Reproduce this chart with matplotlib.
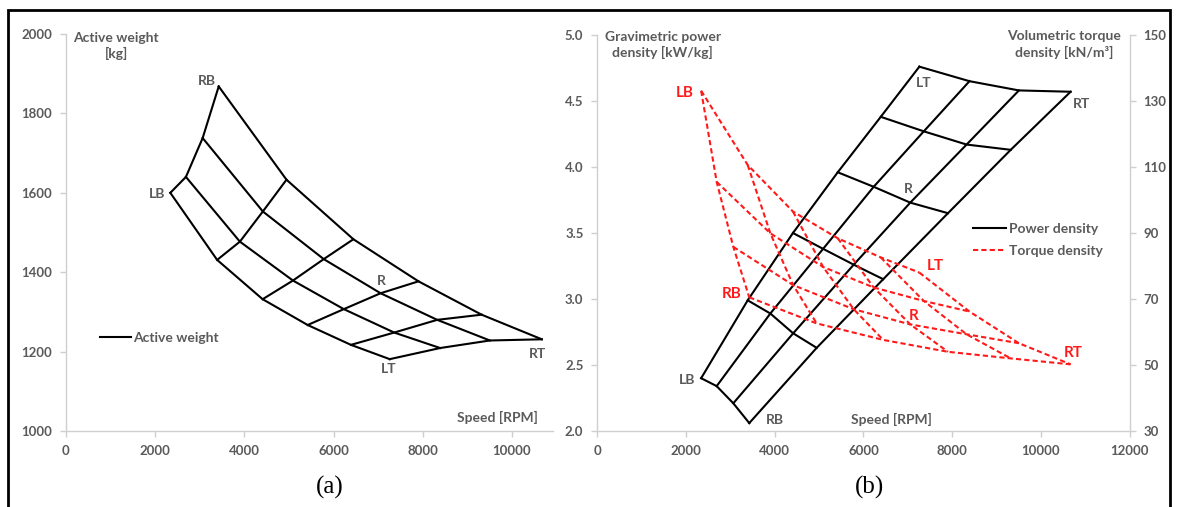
import numpy as np
import matplotlib as mpl
mpl.use("Agg")
import matplotlib.pyplot as plt
from matplotlib.lines import Line2D
from matplotlib.patches import Rectangle

# DATA  (rows : LB->LT ... RB->RT, columns : LB->RB ... LT->RT)

speed = [
    [2340, 3390, 4410, 5420, 6390, 7260],
    [2690, 3900, 5090, 6230, 7360, 8390],
    [3065, 4415, 5780, 7055, 8325, 9505],
    [3425, 4945, 6445, 7905, 9320, 10670],
]

active_weight = [
    [1600, 1431, 1332, 1267, 1217, 1181],
    [1640, 1477, 1379, 1307, 1248, 1209],
    [1738, 1553, 1433, 1347, 1280, 1228],
    [1868, 1633, 1483, 1377, 1293, 1231],
]

power_density = [
    [2.40, 2.99, 3.50, 3.96, 4.38, 4.76],
    [2.34, 2.89, 3.38, 3.85, 4.27, 4.65],
    [2.21, 2.74, 3.26, 3.73, 4.17, 4.58],
    [2.06, 2.63, 3.15, 3.65, 4.13, 4.57],
]

torque_density = [
    [133.1, 110.6, 96.5, 88.4, 82.6, 78.0],
    [105.5, 89.9, 79.7, 73.5, 69.4, 66.2],
    [85.8, 74.2, 66.9, 62.3, 59.3, 56.6],
    [70.5, 62.6, 57.6, 54.0, 52.0, 50.2],
]

# corner / reference labels : (text, speed, value)
labels_a = [("RB", 3155, 1881), ("LB", 2034, 1598), ("R", 7078, 1379),
            ("RT", 10567, 1194), ("LT", 7226, 1156)]
labels_b_power = [("LT", 7349, 4.64), ("RT", 10920, 4.48), ("R", 7011, 3.83),
                  ("LB", 2015, 2.39), ("RB", 4006, 2.08)]
labels_b_torque = [("LB", 1977, 4.56), ("RB", 3030, 3.04), ("LT", 7613, 3.25),
                   ("R", 7123, 2.87), ("RT", 10730, 2.59)]

# STYLE

plt.rcParams['font.family'] = ['Lato', 'DejaVu Sans']
plt.rcParams['font.weight'] = 'bold'
GREY_TXT = '#5a5a5a'
GREY_AX = '#cfcfcf'
RED = '#ff1a1a'
DASH = (0, (2.5, 1.5))


def _mesh(ax, x, y, **kw):
    x = np.asarray(x)
    y = np.asarray(y)
    for i in range(x.shape[0]):
        ax.plot(x[i], y[i], **kw)
    for j in range(x.shape[1]):
        ax.plot(x[:, j], y[:, j], **kw)


def _style(ax, right=False):
    for s in ['top', 'right', 'left', 'bottom']:
        ax.spines[s].set_visible(False)
    ax.spines['bottom'].set_visible(True)
    ax.spines['left' if not right else 'right'].set_visible(True)
    for s in ax.spines.values():
        s.set_color(GREY_AX)
        s.set_linewidth(1.0)
    ax.tick_params(direction='out', length=4, width=1, color=GREY_AX,
                   labelcolor=GREY_TXT, labelsize=9.5, pad=6)


# FIGURE

fig = plt.figure(figsize=(11.78, 5.07), dpi=100)

# (a) active weight
axa = fig.add_axes([0.0560, 0.1499, 0.4134, 0.7830])
_mesh(axa, speed, active_weight, color='black', lw=1.5)
axa.set_xlim(0, 10920)
axa.set_ylim(1000, 2000)
axa.set_xticks(np.arange(0, 10001, 2000))
axa.set_yticks(np.arange(1000, 2001, 200))
_style(axa)
for t, x, y in labels_a:
    axa.text(x, y, t, color=GREY_TXT, fontsize=10, ha='center', va='center')
axa.text(0.103, 1.005, "Active weight\n[kg]", transform=axa.transAxes, ha='center', va='top',
         color=GREY_TXT, fontsize=10, linespacing=1.3)
axa.text(0.969, 0.035, "Speed [RPM]", transform=axa.transAxes, ha='right', va='center',
         color=GREY_TXT, fontsize=10)
axa.legend(handles=[Line2D([], [], color='black', lw=1.5)], labels=["Active weight"],
           loc='center left', bbox_to_anchor=(0.07, 0.234), frameon=False, borderpad=0,
           borderaxespad=0, handlelength=2.2, handletextpad=0.2, fontsize=10, labelcolor=GREY_TXT)

# (b) power density + torque density
axb = fig.add_axes([0.5071, 0.1499, 0.4518, 0.7811])
_mesh(axb, speed, power_density, color='black', lw=1.5)
axb.set_xlim(0, 12000)
axb.set_ylim(2.0, 5.0)
axb.set_xticks(np.arange(0, 12001, 2000))
axb.set_yticks(np.arange(2.0, 5.01, 0.5))
axb.yaxis.set_major_formatter(mpl.ticker.FormatStrFormatter('%.1f'))
_style(axb)

axt = axb.twinx()
_mesh(axt, speed, torque_density, color=RED, lw=1.5, linestyle=DASH)
axt.set_ylim(30, 150)
axt.set_yticks(np.arange(30, 151, 20))
_style(axt, right=True)
axt.spines['bottom'].set_visible(False)

for t, x, y in labels_b_power:
    axb.text(x, y, t, color=GREY_TXT, fontsize=10, ha='center', va='center')
for t, x, y in labels_b_torque:
    axb.text(x, y, t, color=RED, fontsize=11, fontweight='bold', ha='center', va='center', zorder=5)

axb.text(0.123, 1.01, "Gravimetric power\ndensity [kW/kg]", transform=axb.transAxes, ha='center',
         va='top', color=GREY_TXT, fontsize=10, linespacing=1.3)
axt.text(0.877, 1.012, "Volumetric torque\ndensity [kN/m\u00b3]", transform=axt.transAxes, ha='center',
         va='top', color=GREY_TXT, fontsize=10, linespacing=1.3)
axt.text(0.552, 0.028, "Speed [RPM]", transform=axt.transAxes, ha='center', va='center',
         color=GREY_TXT, fontsize=10)
axt.legend(handles=[Line2D([], [], color='black', lw=1.5),
                    Line2D([], [], color=RED, lw=1.5, linestyle=DASH)],
           labels=["Power density", "Torque density"], loc='center left',
           bbox_to_anchor=(0.706, 0.482), frameon=False, borderpad=0, borderaxespad=0,
           handlelength=2.4, handletextpad=0.2, labelspacing=0.75, fontsize=10, labelcolor=GREY_TXT)

# captions
fig.text(330 / 1178, 1 - 487 / 507, "(a)", ha='center', va='center', fontsize=18,
         family='Liberation Serif', fontweight='normal')
fig.text(869 / 1178, 1 - 487 / 507, "(b)", ha='center', va='center', fontsize=18,
         family='Liberation Serif', fontweight='normal')

# outer frame
fig.add_artist(Rectangle((8 / 1178, -0.05), (1170 - 8) / 1178, 1.05 - 10 / 507,
                         transform=fig.transFigure, fill=False, lw=2, ec='black', clip_on=False))

fig.savefig("out.png", dpi=100)
